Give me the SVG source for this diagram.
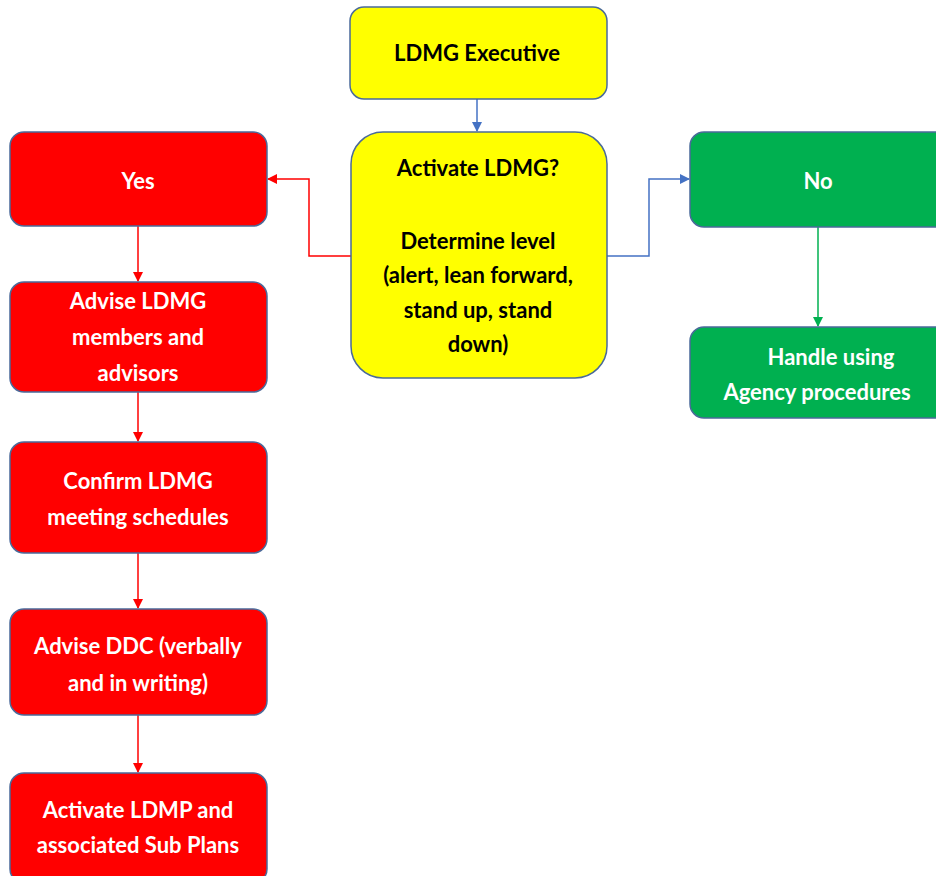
<svg xmlns="http://www.w3.org/2000/svg" width="936" height="876" viewBox="0 0 936 876">
<defs>
<style>
.box{stroke:#4a6a9a;stroke-width:1.5}
.y{fill:#ffff00}
.r{fill:#ff0000}
.g{fill:#00b050}
text{font-family:Lato,"Liberation Sans",sans-serif;font-weight:bold;font-size:22px;text-anchor:middle}
.dk{fill:#000}
.wt{fill:#fff}
.c{fill:none;stroke-width:1.5}
</style>
<marker id="ab" markerWidth="10" markerHeight="10" refX="9" refY="5" orient="auto" markerUnits="userSpaceOnUse"><path d="M0,0 L10,5 L0,10 z" fill="#4472c4"/></marker>
<marker id="ar" markerWidth="10" markerHeight="10" refX="9" refY="5" orient="auto" markerUnits="userSpaceOnUse"><path d="M0,0 L10,5 L0,10 z" fill="#ff0000"/></marker>
<marker id="ag" markerWidth="10" markerHeight="10" refX="9" refY="5" orient="auto" markerUnits="userSpaceOnUse"><path d="M0,0 L10,5 L0,10 z" fill="#00b050"/></marker>
</defs>
<rect width="936" height="876" fill="#fff"/>
<g id="connectors">
<path class="c" stroke="#4472c4" d="M477,99 V131" marker-end="url(#ab)"/>
<path class="c" stroke="#ff0000" d="M351,256 H309 V179 H268" marker-end="url(#ar)"/>
<path class="c" stroke="#4472c4" d="M607,256 H649 V179 H689" marker-end="url(#ab)"/>
<path class="c" stroke="#00b050" d="M818,227 V326" marker-end="url(#ag)"/>
<path class="c" stroke="#ff0000" d="M138,226 V281" marker-end="url(#ar)"/>
<path class="c" stroke="#ff0000" d="M138,392 V441" marker-end="url(#ar)"/>
<path class="c" stroke="#ff0000" d="M138,553 V608" marker-end="url(#ar)"/>
<path class="c" stroke="#ff0000" d="M138,715 V772" marker-end="url(#ar)"/>
</g>
<g id="exec">
<rect class="box y" x="350" y="7" width="257" height="92" rx="14"/>
<text class="dk" x="477" y="61">LDMG Executive</text>
</g>
<g id="decision">
<rect class="box y" x="351" y="132" width="256" height="246" rx="32"/>
<text class="dk" x="478" y="176">Activate LDMG?</text>
<text class="dk" x="478" y="249">Determine level</text>
<text class="dk" x="478" y="283">(alert, lean forward,</text>
<text class="dk" x="478" y="318">stand up, stand</text>
<text class="dk" x="478" y="352">down)</text>
</g>
<g id="yes">
<rect class="box r" x="10" y="132" width="257" height="94" rx="14"/>
<text class="wt" x="138" y="189">Yes</text>
</g>
<g id="no">
<rect class="box g" x="690" y="132" width="260" height="95" rx="14"/>
<text class="wt" x="818" y="189">No</text>
</g>
<g id="handle">
<rect class="box g" x="690" y="327" width="260" height="91" rx="14"/>
<text class="wt" x="831" y="365">Handle using</text>
<text class="wt" x="817" y="400">Agency procedures</text>
</g>
<g id="advise">
<rect class="box r" x="10" y="282" width="257" height="110" rx="14"/>
<text class="wt" x="138" y="309">Advise LDMG</text>
<text class="wt" x="138" y="345">members and</text>
<text class="wt" x="138" y="381">advisors</text>
</g>
<g id="confirm">
<rect class="box r" x="10" y="442" width="257" height="111" rx="14"/>
<text class="wt" x="138" y="489">Confirm LDMG</text>
<text class="wt" x="138" y="525">meeting schedules</text>
</g>
<g id="ddc">
<rect class="box r" x="10" y="609" width="257" height="106" rx="14"/>
<text class="wt" x="138" y="654">Advise DDC (verbally</text>
<text class="wt" x="138" y="691">and in writing)</text>
</g>
<g id="ldmp">
<rect class="box r" x="10" y="773" width="257" height="110" rx="14"/>
<text class="wt" x="138" y="818">Activate LDMP and</text>
<text class="wt" x="138" y="853">associated Sub Plans</text>
</g>
</svg>
